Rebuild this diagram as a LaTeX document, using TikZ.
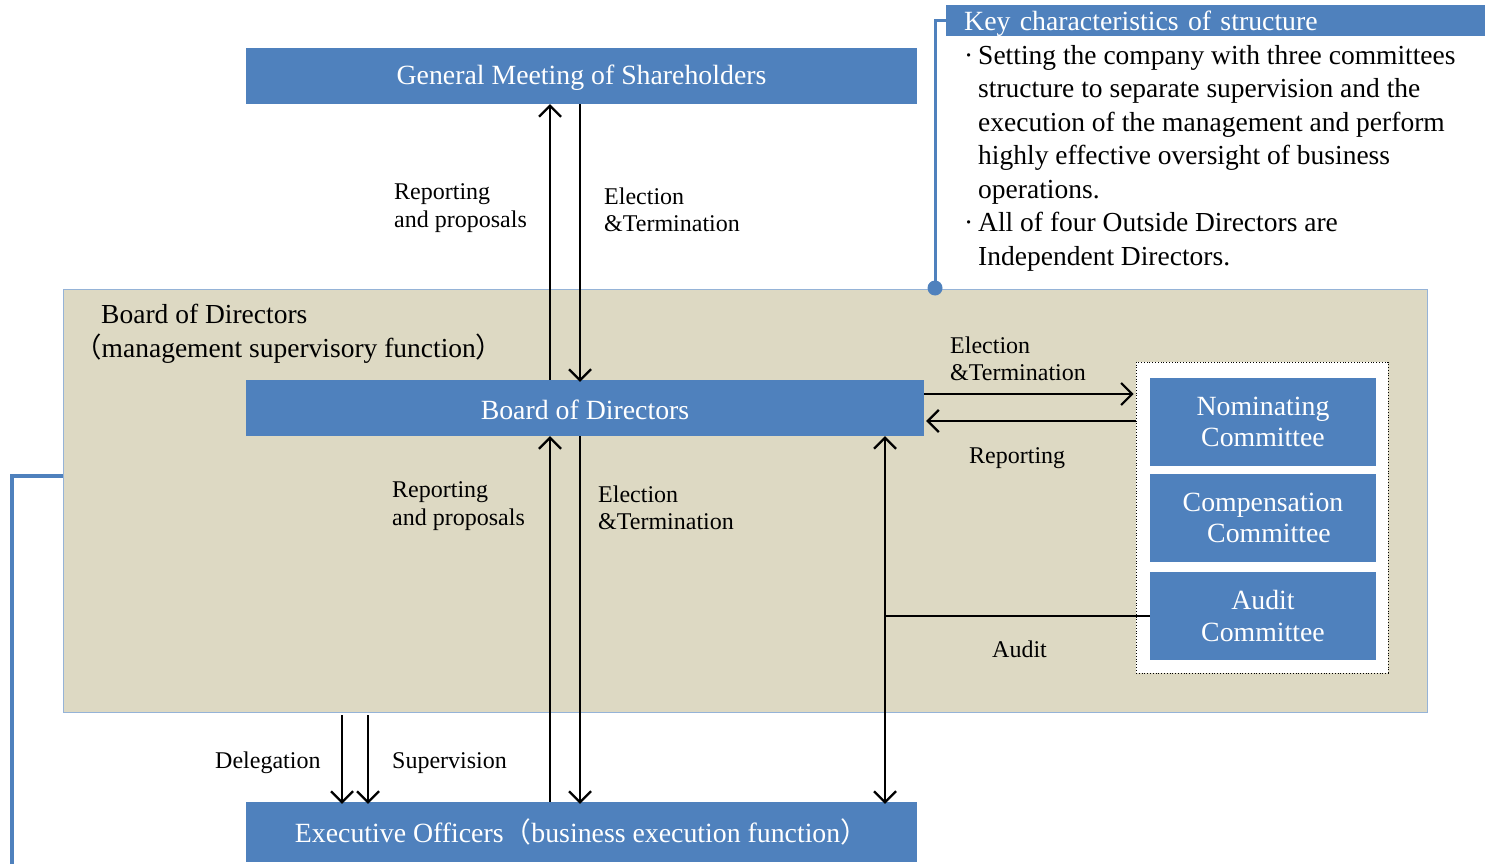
\documentclass[tikz,border=0pt]{standalone}
\usepackage{fontspec}
\setmainfont{Liberation Serif}
\newfontfamily\cjk{Noto Sans CJK JP}
\usetikzlibrary{arrows.meta}
\definecolor{boxblue}{HTML}{4F81BD}
\definecolor{boardtan}{HTML}{DDD9C3}
\definecolor{edgeblue}{HTML}{95B3D7}
\begin{document}
\begin{tikzpicture}[x=1pt,y=-1pt,
 bluebox/.style={draw=none,fill=boxblue,text=white,inner sep=0pt,font=\fontsize{27.8}{31.5}\selectfont,align=center},
 lbl/.style={inner sep=0pt,anchor=west,align=left,font=\fontsize{24}{27.5}\selectfont},
 bigl/.style={inner sep=0pt,anchor=west,align=left,font=\fontsize{27.5}{33.5}\selectfont},
 arr/.style={line width=2.2pt,-{Straight Barb[length=11pt,width=22pt,line width=2.2pt]}},
 darr/.style={line width=2.2pt,{Straight Barb[length=11pt,width=22pt,line width=2.2pt]}-{Straight Barb[length=11pt,width=22pt,line width=2.2pt]}},
 blueline/.style={draw=boxblue,line width=3pt},
]
\useasboundingbox (0,0) rectangle (1493,864);
% outer board area
\node[draw=edgeblue,line width=1pt,fill=boardtan,minimum width=1364pt,minimum height=423pt,inner sep=0pt] (bod) at (745,500.5) {};
% boxes
\node[bluebox,minimum width=671pt,minimum height=56pt] (gm) at (581.5,76) {\raisebox{-2pt}[\height][\depth]{General Meeting of Shareholders}};
\node[bluebox,minimum width=678pt,minimum height=56pt] (bd) at (585,408) {\raisebox{-2pt}[\height][\depth]{Board of Directors}};
\node[bluebox,minimum width=671pt,minimum height=60pt] (ex) at (581.5,832) {Executive Officers{\cjk（}business execution function{\cjk）}};
% committees
\node[draw=black,dotted,line width=0.8pt,fill=white,minimum width=252pt,minimum height=311pt,inner sep=0pt] (comm) at (1262,517.5) {};
\node[bluebox,minimum width=226pt,minimum height=88pt] (nom) at (1263,422) {Nominating\\Committee};
\node[bluebox,minimum width=226pt,minimum height=88pt] (comp) at (1263,518) {Compensation\\\hspace*{12pt}Committee};
\node[bluebox,minimum width=226pt,minimum height=88pt] (aud) at (1263,616) {Audit\\Committee};
% key characteristics
\node[bluebox,minimum width=539pt,minimum height=31pt,anchor=west,text width=521pt,align=left] (key) at (946,21) {\hspace*{9pt}\raisebox{-3pt}[\height][\depth]{Key characteristics of structure}};
\node[bigl,anchor=north west] (keytext) at (964,45) {\makebox[14pt][l]{·}Setting the company with three committees\\
\hspace*{14pt}structure to separate supervision and the\\
\hspace*{14pt}execution of the management and perform\\
\hspace*{14pt}highly effective oversight of business\\
\hspace*{14pt}operations.\\
\makebox[14pt][l]{·}All of four Outside Directors are\\
\hspace*{14pt}Independent Directors.};
\coordinate (dot) at (935,288);
\draw[blueline] (dot) -- (dot |- key.west) -- (key.west);
\fill[boxblue] (dot) circle (7.5pt);
% left line
\coordinate (lcorner) at (12,476);
\coordinate (lend) at (12,864);
\draw[draw=boxblue,line width=4pt] (bod.west |- lcorner) -- (lcorner) -- (lend);
% board labels
\node[bigl] (bodlbl) at (74,334) {\hspace*{27pt}Board of Directors\\{\cjk（}management supervisory function{\cjk）}};
% coordinates for vertical arrows
\coordinate (xa) at (550,0);
\coordinate (xb) at (580,0);
\coordinate (xc) at (885,0);
\coordinate (xd) at (342,0);
\coordinate (xe) at (368,0);
\coordinate (ybot) at (0,715);
\coordinate (yel) at (0,394);
\coordinate (yrep) at (0,421);
% top arrows
\draw[arr] (xa |- bd.north) -- (xa |- gm.south);
\draw[arr] (xb |- gm.south) -- ([yshift=-2pt]xb |- bd.north);
% lower arrows
\draw[arr] (xa |- ex.north) -- (xa |- bd.south);
\draw[arr] (xb |- bd.south) -- ([yshift=-2pt]xb |- ex.north);
\draw[darr] (xc |- bd.south) -- ([yshift=-2pt]xc |- ex.north);
\draw[line width=1.2pt] (xc |- aud.west) -- (aud.west);
% delegation / supervision
\draw[arr] (xd |- ybot) -- ([yshift=-2pt]xd |- ex.north);
\draw[arr] (xe |- ybot) -- ([yshift=-2pt]xe |- ex.north);
% committee arrows
\draw[arr] (bd.east |- yel) -- ([xshift=-2pt]comm.west |- yel);
\draw[arr] (comm.west |- yrep) -- ([xshift=2pt]bd.east |- yrep);
% labels
\node[lbl] (l1) at (394,208) {Reporting\\and proposals};
\node[lbl] (l2) at (604,210) {Election\\\&Termination};
\node[lbl] (l3) at (950,359) {Election\\\&Termination};
\node[lbl] (l4) at (969,458) {Reporting};
\node[lbl] (l5) at (392,506) {Reporting\\and proposals};
\node[lbl] (l6) at (598,508) {Election\\\&Termination};
\node[lbl] (l7) at (992,649) {Audit};
\node[lbl] (l8) at (215,763) {Delegation};
\node[lbl] (l9) at (392,763) {Supervision};
\end{tikzpicture}
\end{document}
